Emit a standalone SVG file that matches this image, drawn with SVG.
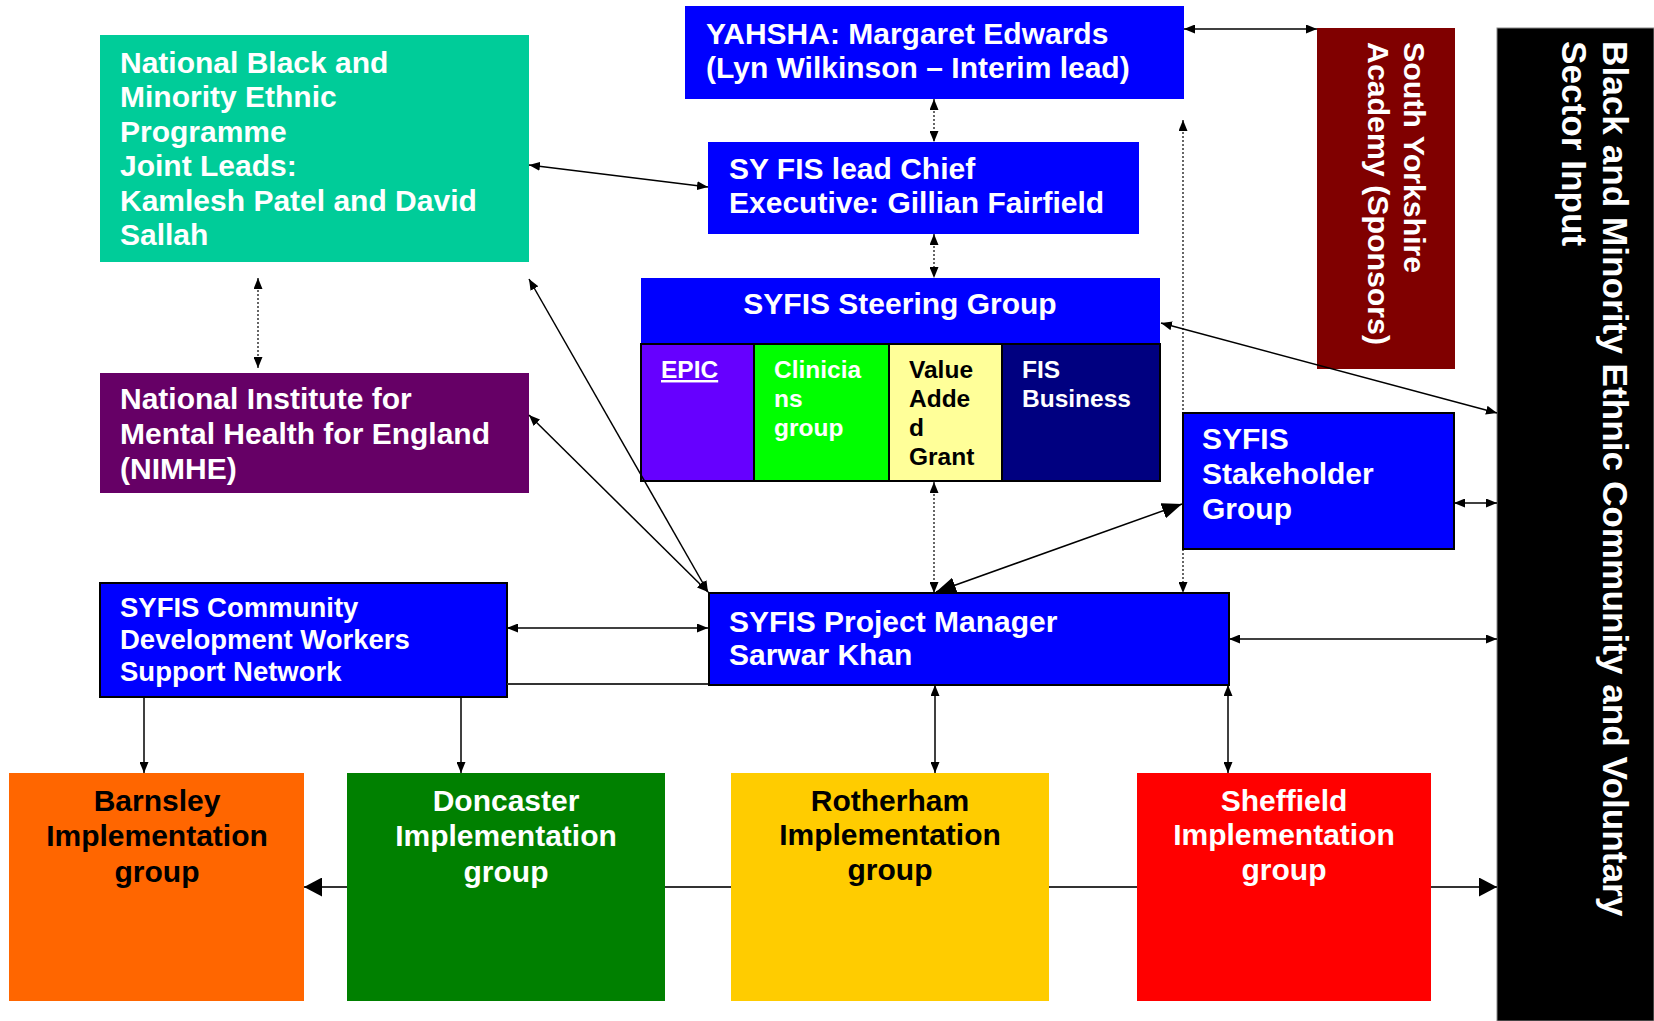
<svg xmlns="http://www.w3.org/2000/svg" width="1654" height="1021" viewBox="0 0 1654 1021">
<style>
text{font-family:"Liberation Sans",Arial,sans-serif;font-weight:bold}
.t30{font-size:30px}
.t27{font-size:27.5px}
.t24{font-size:24.5px}
.w{fill:#fff}
.k{fill:#000}
.ln{stroke:#000;stroke-width:1.5;fill:none}
.dot{stroke:#000;stroke-width:1.2;stroke-dasharray:2,2;fill:none}
.gl{stroke:#333;stroke-width:2;fill:none}
.bd{stroke:#000;stroke-width:2}
</style>
<defs>
<marker id="a" markerUnits="userSpaceOnUse" markerWidth="11" markerHeight="9" refX="11" refY="4.5" orient="auto-start-reverse"><path d="M0,0 L11,4.5 L0,9 z" fill="#000"/></marker>
<marker id="b" markerUnits="userSpaceOnUse" markerWidth="20" markerHeight="16" refX="20" refY="8" orient="auto-start-reverse"><path d="M0,0 L20,8 L0,16 z" fill="#000"/></marker>
<marker id="c" markerUnits="userSpaceOnUse" markerWidth="18" markerHeight="19" refX="18" refY="9.5" orient="auto-start-reverse"><path d="M0,0 L18,9.5 L0,19 z" fill="#000"/></marker>
</defs>
<rect width="1654" height="1021" fill="#fff"/>

<g id="black-sector">
<rect x="1497" y="28" width="157" height="993" fill="#000" stroke="#888" stroke-width="1"/>
<text class="w" font-size="35.2" transform="translate(1603,41) rotate(90)"><tspan x="0" y="0">Black and Minority Ethnic Community and Voluntary</tspan><tspan x="0" y="41">Sector Input</tspan></text>
</g>

<g id="sya">
<rect x="1317" y="28" width="138" height="341" fill="#800000"/>
<text class="w" font-size="30.3" transform="translate(1404,42) rotate(90)"><tspan x="0" y="0">South Yorkshire</tspan><tspan x="0" y="36">Academy (Sponsors)</tspan></text>
</g>

<g id="nbme">
<rect x="100" y="35" width="429" height="227" fill="#00CC99"/>
<text class="w t30"><tspan x="120" y="72.5">National Black and</tspan><tspan x="120" y="107">Minority Ethnic</tspan><tspan x="120" y="141.5">Programme</tspan><tspan x="120" y="176">Joint Leads:</tspan><tspan x="120" y="210.5">Kamlesh Patel and David</tspan><tspan x="120" y="245">Sallah</tspan></text>
</g>

<g id="nimhe">
<rect x="100" y="373" width="429" height="120" fill="#660066"/>
<text class="w t30"><tspan x="120" y="409">National Institute for</tspan><tspan x="120" y="444">Mental Health for England</tspan><tspan x="120" y="478.5">(NIMHE)</tspan></text>
</g>

<g id="yahsha">
<rect x="685" y="6" width="499" height="93" fill="#0000FF"/>
<text class="w t30"><tspan x="706" y="43.5">YAHSHA: Margaret Edwards</tspan><tspan x="706" y="78">(Lyn Wilkinson – Interim lead)</tspan></text>
</g>

<g id="syfis-lead">
<rect x="708" y="142" width="431" height="92" fill="#0000FF"/>
<text class="w t30"><tspan x="729" y="178.5">SY FIS lead Chief</tspan><tspan x="729" y="213">Executive: Gillian Fairfield</tspan></text>
</g>

<g id="steering">
<rect x="641" y="278" width="519" height="66" fill="#0000FF"/>
<text class="w t30" x="900" y="314" text-anchor="middle">SYFIS Steering Group</text>
<rect x="641" y="344" width="113" height="137" fill="#6600FF" class="bd"/>
<rect x="754" y="344" width="135" height="137" fill="#00FF00" class="bd"/>
<rect x="889" y="344" width="113" height="137" fill="#FFFF99" class="bd"/>
<rect x="1002" y="344" width="158" height="137" fill="#000080" class="bd"/>
<text class="w t24" x="661" y="378" text-decoration="underline">EPIC</text>
<text class="w t24"><tspan x="774" y="378">Clinicia</tspan><tspan x="774" y="407">ns</tspan><tspan x="774" y="436">group</tspan></text>
<text class="k t24"><tspan x="909" y="378">Value</tspan><tspan x="909" y="407">Adde</tspan><tspan x="909" y="436">d</tspan><tspan x="909" y="465">Grant</tspan></text>
<text class="w t24"><tspan x="1022" y="378">FIS</tspan><tspan x="1022" y="407">Business</tspan></text>
</g>

<g id="stakeholder">
<rect x="1183" y="413" width="271" height="136" fill="#0000FF" class="bd"/>
<text class="w t30"><tspan x="1202" y="448.5">SYFIS</tspan><tspan x="1202" y="483.5">Stakeholder</tspan><tspan x="1202" y="518.5">Group</tspan></text>
</g>

<g id="cdw">
<rect x="100" y="583" width="407" height="114" fill="#0000FF" class="bd"/>
<text class="w t27"><tspan x="120" y="617">SYFIS Community</tspan><tspan x="120" y="649">Development Workers</tspan><tspan x="120" y="681">Support Network</tspan></text>
</g>

<g id="pm">
<rect x="709" y="593" width="520" height="92" fill="#0000FF" class="bd"/>
<text class="w t30"><tspan x="729" y="631.5">SYFIS Project Manager</tspan><tspan x="729" y="665">Sarwar Khan</tspan></text>
</g>

<g id="barnsley">
<rect x="9" y="773" width="295" height="228" fill="#FF6600"/>
<text class="k t30" text-anchor="middle"><tspan x="157" y="810.5">Barnsley</tspan><tspan x="157" y="845.5">Implementation</tspan><tspan x="157" y="882">group</tspan></text>
</g>

<g id="doncaster">
<rect x="347" y="773" width="318" height="228" fill="#008000"/>
<text class="w t30" text-anchor="middle"><tspan x="506" y="810.5">Doncaster</tspan><tspan x="506" y="845.5">Implementation</tspan><tspan x="506" y="882">group</tspan></text>
</g>

<g id="rotherham">
<rect x="731" y="773" width="318" height="228" fill="#FFCC00"/>
<text class="k t30" text-anchor="middle"><tspan x="890" y="810.5">Rotherham</tspan><tspan x="890" y="845">Implementation</tspan><tspan x="890" y="880">group</tspan></text>
</g>

<g id="sheffield">
<rect x="1137" y="773" width="294" height="228" fill="#FF0000"/>
<text class="w t30" text-anchor="middle"><tspan x="1284" y="810.5">Sheffield</tspan><tspan x="1284" y="845">Implementation</tspan><tspan x="1284" y="880">group</tspan></text>
</g>

<g id="connectors">
<line class="ln" x1="1184" y1="29" x2="1317" y2="29" marker-start="url(#a)" marker-end="url(#a)"/>
<line class="dot" x1="934" y1="99" x2="934" y2="142" marker-start="url(#a)" marker-end="url(#a)"/>
<line class="dot" x1="934" y1="234" x2="934" y2="278" marker-start="url(#a)" marker-end="url(#a)"/>
<line class="ln" x1="529" y1="165" x2="708" y2="187" marker-start="url(#a)" marker-end="url(#a)"/>
<line class="dot" x1="258" y1="278" x2="258" y2="368" marker-start="url(#a)" marker-end="url(#a)"/>
<line class="ln" x1="529" y1="279" x2="708" y2="592" marker-start="url(#a)" marker-end="url(#a)"/>
<line class="ln" x1="529" y1="415" x2="708" y2="592" marker-start="url(#a)" marker-end="url(#a)"/>
<line class="dot" x1="1183" y1="120" x2="1183" y2="413" marker-start="url(#a)"/>
<line class="dot" x1="1183" y1="549" x2="1183" y2="593" marker-end="url(#a)"/>
<line class="ln" x1="1161" y1="323" x2="1497" y2="413" marker-start="url(#a)" marker-end="url(#a)"/>
<line class="ln" x1="1454" y1="503" x2="1497" y2="503" marker-start="url(#a)" marker-end="url(#a)"/>
<line class="ln" x1="1229" y1="639" x2="1497" y2="639" marker-start="url(#a)" marker-end="url(#a)"/>
<line class="dot" x1="934" y1="482" x2="934" y2="593" marker-start="url(#a)" marker-end="url(#a)"/>
<line class="ln" x1="1182" y1="504" x2="936" y2="592" marker-start="url(#b)" marker-end="url(#b)"/>
<line class="ln" x1="507" y1="628" x2="708" y2="628" marker-start="url(#a)" marker-end="url(#a)"/>
<line class="gl" x1="507" y1="684" x2="708" y2="684"/>
<line class="ln" x1="144" y1="697" x2="144" y2="773" marker-end="url(#a)"/>
<line class="ln" x1="461" y1="697" x2="461" y2="773" marker-end="url(#a)"/>
<line class="ln" x1="935" y1="685" x2="935" y2="773" marker-start="url(#a)" marker-end="url(#a)"/>
<line class="ln" x1="1228" y1="685" x2="1228" y2="773" marker-start="url(#a)" marker-end="url(#a)"/>
<line class="gl" x1="347" y1="887" x2="304" y2="887" marker-end="url(#c)"/>
<line class="gl" x1="665" y1="887" x2="731" y2="887"/>
<line class="gl" x1="1049" y1="887" x2="1137" y2="887"/>
<line class="gl" x1="1431" y1="887" x2="1497" y2="887" marker-end="url(#c)"/>
</g>
</svg>
